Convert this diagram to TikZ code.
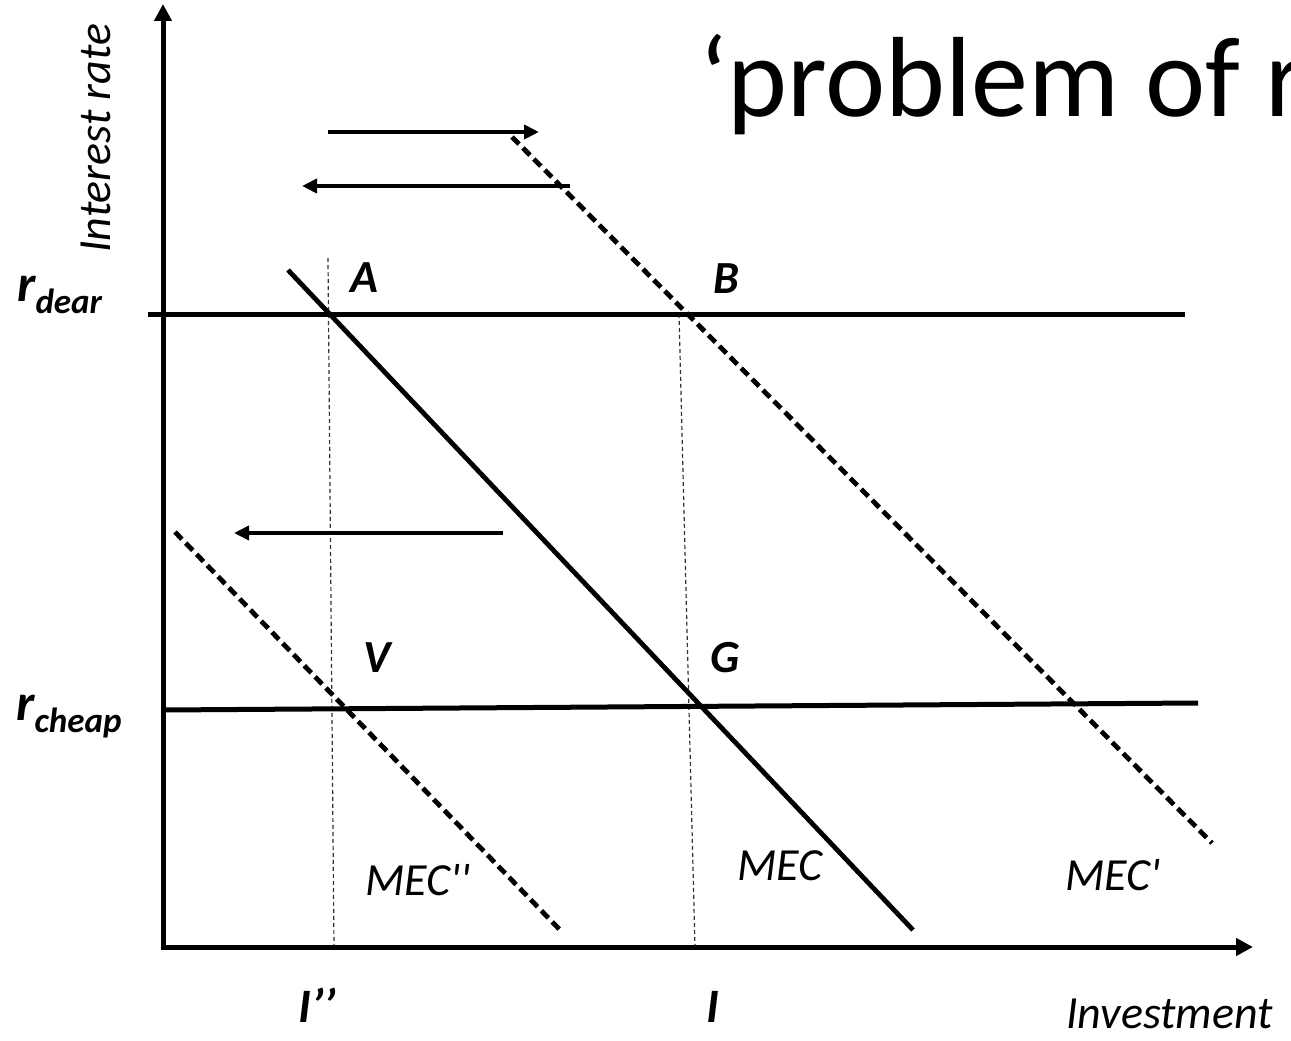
\documentclass[tikz,border=0pt]{standalone}
\usepackage{fontspec}
\newfontfamily\calfont{Carlito}
\usetikzlibrary{arrows.meta}
\begin{document}
\begin{tikzpicture}[x=1pt,y=-1pt,
  axis/.style={line width=5pt,-{Triangle[length=17pt,width=17pt]}},
  rline/.style={line width=5pt},
  mecsolid/.style={line width=4.8pt},
  mecdash/.style={line width=4.8pt,dash pattern=on 10pt off 5.5pt},
  guide/.style={line width=1.2pt,dash pattern=on 4pt off 3pt,black!80},
  shiftarrow/.style={line width=4pt,-{Triangle[length=15pt,width=14pt]}},
  lbl/.style={inner sep=0pt,anchor=base west,font=\calfont\fontsize{46}{46}\selectfont\itshape},
  pt/.style={inner sep=0pt,anchor=base west,font=\calfont\fontsize{46}{46}\selectfont\bfseries\itshape}]
\useasboundingbox (0,0) rectangle (1291,1041);
% coordinates
\coordinate (O) at (163,947);
\coordinate (ytop) at (163,4);
\coordinate (xend) at (1253,947);
\coordinate (rdL) at (148,314);
\coordinate (rdR) at (1185,314);
\coordinate (rcL) at (163,710);
\coordinate (rcR) at (1198,703);
\coordinate (m1) at (288,270);
\coordinate (m2) at (913,930);
\coordinate (mp1) at (512,137);
\coordinate (mp2) at (1212,843);
\coordinate (mpp1) at (175,532);
\coordinate (mpp2) at (562,932);
\coordinate (g1a) at (328,258);
\coordinate (g1b) at (334,947);
\coordinate (g2a) at (679,314);
\coordinate (g2b) at (695,947);
\coordinate (a1s) at (328,132);
\coordinate (a1e) at (539,132);
\coordinate (a2s) at (570,186);
\coordinate (a2e) at (302,186);
\coordinate (a3s) at (503,533);
\coordinate (a3e) at (234,533);
% title
\node[inner sep=0pt,anchor=base west,font=\calfont\fontsize{114}{114}\selectfont] (title) at (699,116) {‘problem of r};
% guides
\draw[guide] (g1a) -- (g1b);
\draw[guide] (g2a) -- (g2b);
% rates
\draw[rline] (rdL) -- (rdR);
\draw[rline] (rcL) -- (rcR);
% curves
\draw[mecsolid] (m1) -- (m2);
\draw[mecdash] (mp1) -- (mp2);
\draw[mecdash] (mpp1) -- (mpp2);
% shift arrows
\draw[shiftarrow] (a1s) -- (a1e);
\draw[shiftarrow] (a2s) -- (a2e);
\draw[shiftarrow] (a3s) -- (a3e);
% axes
\draw[axis] ([yshift=2pt]O) -- (ytop);
\draw[axis] ([xshift=-2pt]O) -- (xend);
% labels
\node[lbl,rotate=90] (ylab) at (110,253) {Interest rate};
\node[lbl] (xlab) at (1066,1028) {Investment};
\node[inner sep=0pt,anchor=base west,font=\calfont\bfseries\itshape] (rdear) at (17,301)
  {\fontsize{52}{52}\selectfont r\raisebox{-12pt}{\fontsize{35}{35}\selectfont dear}};
\node[inner sep=0pt,anchor=base west,font=\calfont\bfseries\itshape] (rcheap) at (16,720)
  {\fontsize{52}{52}\selectfont r\raisebox{-12pt}{\fontsize{35}{35}\selectfont cheap}};
\node[pt] (A) at (350,292) {A};
\node[pt] (B) at (713,293) {B};
\node[pt] (V) at (363,672) {V};
\node[pt] (G) at (710,672) {G};
\node[lbl] (mecpp) at (365,895) {MEC''};
\node[lbl] (mec) at (737,880) {MEC};
\node[lbl] (mecp) at (1065,890) {MEC'};
\node[pt,font=\calfont\fontsize{48}{48}\selectfont\bfseries\itshape] (Ipp) at (298,1022) {I’’};
\node[pt,font=\calfont\fontsize{48}{48}\selectfont\bfseries\itshape] (I) at (706,1022) {I};
\end{tikzpicture}
\end{document}
